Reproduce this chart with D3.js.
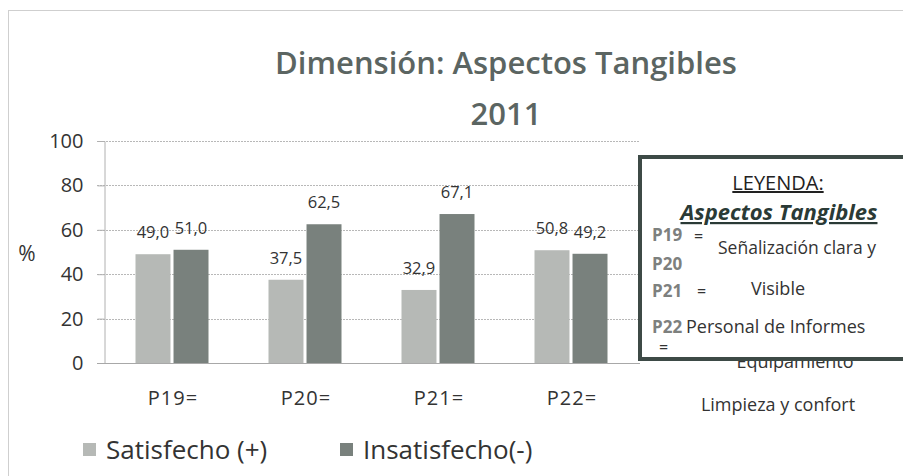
<!DOCTYPE html>
<html><head><meta charset="utf-8">
<script src="https://cdn.jsdelivr.net/npm/d3@7"></script>
<style>
html,body{margin:0;padding:0;background:#fff;}
svg{display:block;font-family:"Open Sans",sans-serif;}
</style></head>
<body>
<script>
const categories = ["P19=", "P20=", "P21=", "P22="];
const seriesNames = ["Satisfecho (+)", "Insatisfecho(-)"];
const satisfecho = [49.0, 37.5, 32.9, 50.8];
const insatisfecho = [51.0, 62.5, 67.1, 49.2];
const yTicks = [0, 20, 40, 60, 80, 100];
const titleLines = ["Dimensión: Aspectos Tangibles", "2011"];
const legendCodes = ["P19", "P20", "P21", "P22"];
const legendItems = ["Señalización clara y", "Visible", "Personal de Informes", "Equipamiento", "Limpieza y confort"];

const colors = ["#b6b9b6", "#79817d"];
const W = 903, H = 476;
const svg = d3.select("body").append("svg").attr("width", W).attr("height", H);

// outer chart border
svg.append("rect").attr("x", 8.5).attr("y", 10.5).attr("width", 1000).attr("height", 1000)
  .attr("fill", "#fff").attr("stroke", "#cfcfcf").attr("stroke-width", 1);

const x0 = d3.scaleBand().domain(categories).range([105.5, 637.5]);
const x1 = d3.scaleBand().domain(seriesNames).range([30, 103]).paddingInner(0.08);
const y = d3.scaleLinear().domain([0, 100]).range([363, 141]);

// gridlines
const grid = svg.append("g");
grid.selectAll("line").data(yTicks.filter(d => d > 0)).join("line")
  .attr("x1", 97).attr("x2", 640)
  .attr("y1", d => Math.round(y(d)) + 0.5).attr("y2", d => Math.round(y(d)) + 0.5)
  .attr("stroke", "#b8b8b8").attr("stroke-width", 1).attr("stroke-dasharray", "2,1");

// y axis
const yAxis = d3.axisLeft(y).tickValues(yTicks).tickSize(7).tickPadding(14).tickFormat(d3.format("d"));
const yg = svg.append("g").attr("transform", "translate(104.5,0)").call(yAxis);
yg.select(".domain").attr("stroke", "#b0b0b0");
yg.selectAll(".tick line").attr("stroke", "#b0b0b0");
yg.selectAll(".tick text").attr("font-size", 20).attr("fill", "#333")
  .attr("font-family", "Open Sans, sans-serif");

// baseline
svg.append("line").attr("x1", 97).attr("x2", 640).attr("y1", 363.5).attr("y2", 363.5)
  .attr("stroke", "#a8a8a8").attr("stroke-width", 1.2);

// bars
const data = categories.map((c, i) => ({c, vals: [satisfecho[i], insatisfecho[i]]}));
const gCat = svg.append("g").selectAll("g").data(data).join("g")
  .attr("transform", d => `translate(${x0(d.c)},0)`);
gCat.selectAll("rect").data(d => d.vals.map((v, j) => ({v, s: seriesNames[j], j}))).join("rect")
  .attr("x", d => x1(d.s)).attr("width", x1.bandwidth())
  .attr("y", d => y(d.v)).attr("height", d => y(0) - y(d.v))
  .attr("fill", d => colors[d.j]);
gCat.selectAll("text.val").data(d => d.vals.map((v, j) => ({v, s: seriesNames[j]}))).join("text")
  .attr("class", "val")
  .attr("x", d => x1(d.s) + x1.bandwidth() / 2).attr("y", d => y(d.v) - 16)
  .attr("text-anchor", "middle").attr("font-size", 16.5).attr("fill", "#333")
  .text(d => d3.format(".1f")(d.v).replace(".", ","));

// category labels
svg.append("g").selectAll("text").data(categories).join("text")
  .attr("x", d => x0(d) + x0.bandwidth() / 2 + 1).attr("y", 405)
  .attr("text-anchor", "middle").attr("font-size", 20).attr("letter-spacing", 1)
  .attr("fill", "#333").text(d => d);

// "%" label
svg.append("text").attr("x", 27).attr("y", 261).attr("text-anchor", "middle")
  .attr("font-size", 21).attr("fill", "#333").text("%");

// title background (hides top gridline) and title
svg.append("rect").attr("x", 228).attr("y", 20).attr("width", 600).attr("height", 118).attr("fill", "#fff");
svg.append("g").selectAll("text").data(titleLines).join("text")
  .attr("x", 506).attr("y", (d, i) => 74 + i * 51)
  .attr("text-anchor", "middle").attr("font-size", 31).attr("font-weight", 600)
  .attr("fill", "#5b6562").text(d => d);

// series legend
const lg = svg.append("g");
const legendX = [83, 340];
seriesNames.forEach((s, i) => {
  lg.append("rect").attr("x", legendX[i]).attr("y", 443).attr("width", 13).attr("height", 13).attr("fill", colors[i]);
  lg.append("text").attr("x", legendX[i] + 23).attr("y", 459).attr("font-size", 26).attr("fill", "#333").text(s);
});

// text box legend
const tb = svg.append("g");
// Equipamiento partly covered by the box
tb.append("text").attr("x", 795).attr("y", 368).attr("text-anchor", "middle")
  .attr("font-size", 18).attr("fill", "#333").text(legendItems[3]);
tb.append("rect").attr("x", 640).attr("y", 157).attr("width", 300).attr("height", 202)
  .attr("fill", "#fff").attr("stroke", "#3d4a46").attr("stroke-width", 4);
tb.append("text").attr("x", 778).attr("y", 190).attr("text-anchor", "middle")
  .attr("font-size", 20).attr("fill", "#222").attr("text-decoration", "underline").text("LEYENDA:");
tb.append("text").attr("x", 779).attr("y", 220).attr("text-anchor", "middle")
  .attr("font-size", 22).attr("font-weight", 700).attr("font-style", "italic")
  .attr("fill", "#2a3a36").attr("text-decoration", "underline").text("Aspectos Tangibles");
const codeY = [241, 270, 297, 333];
tb.selectAll("text.code").data(legendCodes).join("text").attr("class", "code")
  .attr("x", 652).attr("y", (d, i) => codeY[i])
  .attr("font-size", 17).attr("font-weight", 700).attr("fill", "#7d807e").text(d => d);
tb.append("text").attr("x", 694).attr("y", 242).attr("font-size", 16).attr("fill", "#333").text("=");
tb.append("text").attr("x", 697).attr("y", 297).attr("font-size", 16).attr("fill", "#333").text("=");
tb.append("text").attr("x", 659).attr("y", 353).attr("font-size", 16).attr("fill", "#333").text("=");
tb.append("text").attr("x", 797).attr("y", 254).attr("text-anchor", "middle")
  .attr("font-size", 17.5).attr("fill", "#333").text(legendItems[0]);
tb.append("text").attr("x", 778).attr("y", 295).attr("text-anchor", "middle")
  .attr("font-size", 18).attr("fill", "#333").text(legendItems[1]);
tb.append("text").attr("x", 686).attr("y", 333)
  .attr("font-size", 18).attr("fill", "#333").text(legendItems[2]);
tb.append("text").attr("x", 778).attr("y", 411).attr("text-anchor", "middle")
  .attr("font-size", 18).attr("fill", "#333").text(legendItems[4]);
</script>
</body></html>
